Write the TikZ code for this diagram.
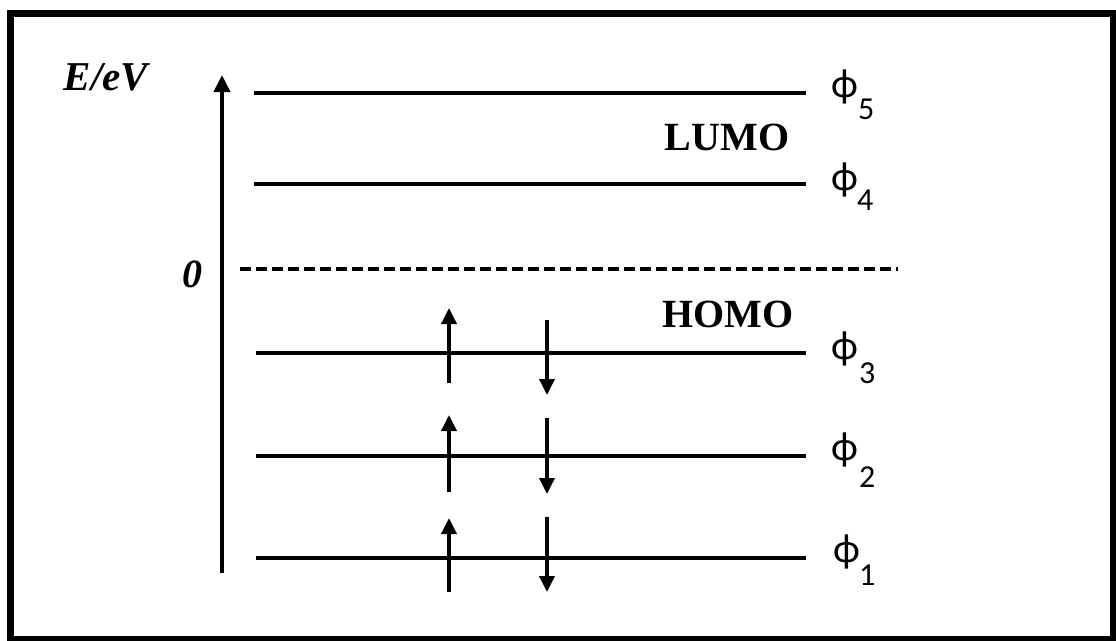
\documentclass[tikz,border=0pt]{standalone}
\usepackage{fontspec}
\setmainfont{Liberation Serif}
\newfontfamily\calfont{Carlito}
\usetikzlibrary{arrows.meta}
\begin{document}
\begin{tikzpicture}[x=1pt,y=-1pt,
  big/.style={inner sep=0pt,font=\fontsize{40}{48}\selectfont\bfseries},
  phi/.style={inner sep=0pt,anchor=base west,font=\fontsize{41}{48}\selectfont\calfont},
  sub/.style={inner sep=0pt,anchor=base west,font=\fontsize{32}{38}\selectfont\calfont},
  level/.style={line width=3.5pt},
  axisarrow/.style={line width=4pt,-{Triangle[width=16pt,length=17pt]}},
  spin/.style={line width=3.5pt,-{Triangle[width=15pt,length=16pt]}}]
\useasboundingbox (0,0) rectangle (1116,640);
\fill[white] (0,0) rectangle (1116,640);
\draw[line width=7pt] (10.5,13.5) rectangle (1113.5,639.5);

% axis
\coordinate (ab) at (222,573);
\coordinate (at) at (222,75);
\draw[axisarrow] (ab) -- (at);
\node[big,anchor=base,font=\fontsize{41}{48}\selectfont\bfseries\itshape] (ylab) at (106,90) {E/eV};
\node[big,anchor=base,font=\fontsize{40}{48}\selectfont\bfseries\itshape] (zero) at (192,287) {0};

% zero line
\coordinate (d1) at (240,269);
\coordinate (d2) at (898,269);
\draw[line width=3.5pt,dash pattern=on 11pt off 5pt] (d1) -- (d2);

% levels
\coordinate (l5a) at (254,93);  \coordinate (l5b) at (806,93);
\coordinate (l4a) at (254,184); \coordinate (l4b) at (806,184);
\coordinate (l3a) at (256,353); \coordinate (l3b) at (806,353);
\coordinate (l2a) at (256,456); \coordinate (l2b) at (806,456);
\coordinate (l1a) at (256,558); \coordinate (l1b) at (806,558);
\draw[level] (l5a) -- (l5b);
\draw[level] (l4a) -- (l4b);
\draw[level] (l3a) -- (l3b);
\draw[level] (l2a) -- (l2b);
\draw[level] (l1a) -- (l1b);

% labels
\node[big,anchor=base] (lumo) at (727,150) {LUMO};
\node[big,anchor=base] (homo) at (728,327) {HOMO};

\node[phi] (p5) at (831,97) {ϕ};  \node[sub] (s5) at (858,119) {5};
\node[phi] (p4) at (831,190) {ϕ}; \node[sub] (s4) at (857,210) {4};
\node[phi] (p3) at (831,359) {ϕ}; \node[sub] (s3) at (859,383) {3};
\node[phi] (p2) at (831,460) {ϕ}; \node[sub] (s2) at (859,487) {2};
\node[phi] (p1) at (833,562) {ϕ}; \node[sub] (s1) at (859,585) {1};

% electrons
\coordinate (u3a) at (449,383); \coordinate (u3b) at (449,308);
\coordinate (d3a) at (547,320); \coordinate (d3b) at (547,395);
\coordinate (u2a) at (449,492); \coordinate (u2b) at (449,415);
\coordinate (d2a) at (547,418); \coordinate (d2b) at (547,494);
\coordinate (u1a) at (449,592); \coordinate (u1b) at (449,518);
\coordinate (d1a) at (547,517); \coordinate (d1b) at (547,592);
\draw[spin] (u3a) -- (u3b);
\draw[spin] (d3a) -- (d3b);
\draw[spin] (u2a) -- (u2b);
\draw[spin] (d2a) -- (d2b);
\draw[spin] (u1a) -- (u1b);
\draw[spin] (d1a) -- (d1b);
\end{tikzpicture}
\end{document}
